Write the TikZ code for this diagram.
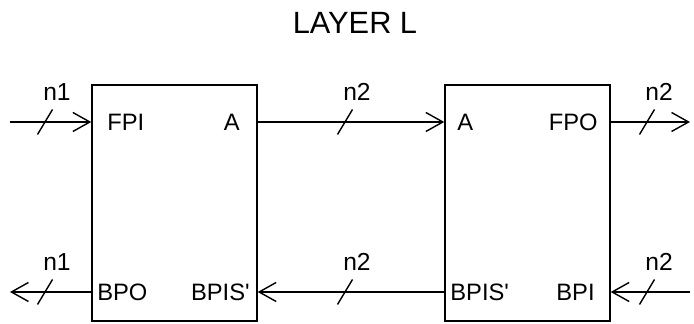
\documentclass[tikz,border=0pt]{standalone}
\usepackage{fontspec}
\setmainfont{Liberation Sans}
\usetikzlibrary{positioning,calc,arrows.meta}
\tikzset{
  blk/.style={draw=black,line width=0.8pt,minimum width=3.3cm,minimum height=4.72cm,inner sep=0pt},
  sig/.style={draw=black,line width=0.8pt,-{Straight Barb[length=3.4mm,width=3.8mm,line width=0.8pt]}},
  port/.style={font=\fontsize{13.5}{16}\selectfont,inner sep=0pt},
  buslab/.style={font=\fontsize{14}{16}\selectfont,inner sep=0pt},
  busmark/.style={draw=black,line width=0.8pt},
}

\begin{document}
\begin{tikzpicture}
\useasboundingbox (0,0) rectangle (13.88,6.48);
% title
\node[font=\fontsize{17.5}{20}\selectfont] (title) at (7.1,6.02) {LAYER L};
% the two blocks
\node[blk] (box1) at (3.49,2.42) {};
\node[blk] (box2) at (10.55,2.42) {};
% port names
\node[port,anchor=west] (fpi) at (2.14,4.04) {FPI};
\node[port,anchor=east] (a1) at (4.80,4.04) {A};
\node[port,anchor=west] (a2) at (9.14,4.04) {A};
\node[port,anchor=east] (fpo) at (11.96,4.04) {FPO};
\node[port,anchor=west] (bpo) at (1.94,0.64) {BPO};
\node[port,anchor=east] (bpis1) at (5.00,0.64) {BPIS\textquotesingle};
\node[port,anchor=west] (bpis2) at (9.00,0.64) {BPIS\textquotesingle};
\node[port,anchor=east] (bpi) at (11.90,0.64) {BPI};
% free ends
\coordinate (inL) at (0.20,4.04);
\coordinate (outR) at (13.80,4.04);
\coordinate (outL) at (0.20,0.64);
\coordinate (inR) at (13.80,0.64);
% connectors
\draw[sig] (inL) -- (box1.west |- fpi);
\draw[sig] (box1.east |- a1) -- (box2.west |- a2);
\draw[sig] (box2.east |- fpo) -- (outR);
\draw[sig] (box1.west |- bpo) -- (outL);
\draw[sig] (box2.west |- bpis2) -- (box1.east |- bpis1);
\draw[sig] (inR) -- (box2.east |- bpi);
% bus widths
\coordinate (s1) at (0.90,4.04);
\coordinate (s2) at (6.90,4.04);
\coordinate (s3) at (12.94,4.04);
\coordinate (s4) at (0.90,0.64);
\coordinate (s5) at (6.90,0.64);
\coordinate (s6) at (12.94,0.64);
\foreach \s/\t in {s1/n1,s2/n2,s3/n2,s4/n1,s5/n2,s6/n2}{
  \draw[busmark] ($(\s)+(-0.15,-0.25)$) -- ($(\s)+(0.15,0.25)$);
  \node[buslab] (l\s) at ($(\s)+(0.24,0.6)$) {\t};
}
\end{tikzpicture}
\end{document}
